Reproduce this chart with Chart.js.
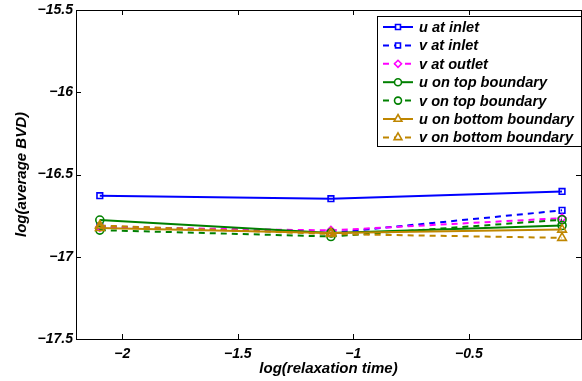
<!DOCTYPE html>
<html>
<head>
<meta charset="utf-8">
<script src="https://cdn.jsdelivr.net/npm/chart.js@4/dist/chart.umd.min.js"></script>
<style>
  html, body { margin: 0; padding: 0; background: #fff; }
  #wrap { width: 582px; height: 381px; }
</style>
</head>
<body>
<div id="wrap"><canvas id="bvdChart" width="582" height="381"></canvas></div>
<script>
// log(relaxation time) values at which the runs were made
const logTau = [-2.097, -1.097, -0.097];

// log(average BVD) per boundary quantity
const uInlet = [-16.629, -16.647, -16.603];
const vInlet = [-16.815, -16.855, -16.718];
const vOutlet = [-16.820, -16.840, -16.765];
const uTop = [-16.777, -16.855, -16.810];
const vTop = [-16.838, -16.877, -16.775];
const uBottom = [-16.825, -16.855, -16.835];
const vBottom = [-16.810, -16.862, -16.885];

const seriesNames = ['u at inlet', 'v at inlet', 'v at outlet', 'u on top boundary',
    'v on top boundary', 'u on bottom boundary', 'v on bottom boundary'];

const xTicks = [-2, -1.5, -1, -0.5];
const yTicks = [-17.5, -17, -16.5, -16, -15.5];

const FONT = "'Liberation Sans', Arial, sans-serif";
const BLUE = '#0000ff', MAGENTA = '#ff00ff', GREEN = '#008000', BROWN = '#bf8600';
const DASH = [6, 5];

const series = [
    { data: uInlet, color: BLUE, dash: [], marker: 'rect' },
    { data: vInlet, color: BLUE, dash: DASH, marker: 'rect' },
    { data: vOutlet, color: MAGENTA, dash: DASH, marker: 'rectRot' },
    { data: uTop, color: GREEN, dash: [], marker: 'circle' },
    { data: vTop, color: GREEN, dash: DASH, marker: 'circle' },
    { data: uBottom, color: BROWN, dash: [], marker: 'triangle' },
    { data: vBottom, color: BROWN, dash: DASH, marker: 'triangle' }
];

const datasets = series.map((s, i) => ({
    label: seriesNames[i],
    data: s.data.map((y, j) => ({ x: logTau[j], y })),
    borderColor: s.color,
    backgroundColor: 'rgba(255,255,255,0)',
    borderWidth: 2,
    borderDash: s.dash,
    pointStyle: s.marker,
    pointRadius: s.marker === 'triangle' ? 5 : 4,
    pointBorderWidth: 1.6,
    pointBorderColor: s.color,
    pointBackgroundColor: 'rgba(255,255,255,0)',
    tension: 0,
    order: series.length - i // later series drawn on top, like matlab
}));

const minus = v => String(v).replace('-', '\u2212');

// box around the plot with inward ticks on all four sides
const boxPlugin = {
    id: 'box',
    afterDatasetsDraw(chart) {
        const { ctx, chartArea: a, scales } = chart;
        ctx.save();
        ctx.strokeStyle = '#000';
        ctx.lineWidth = 1;
        ctx.setLineDash([]);
        ctx.strokeRect(a.left + 0.5, a.top + 0.5, a.right - a.left, a.bottom - a.top);
        ctx.beginPath();
        scales.x.ticks.forEach(t => {
            const px = Math.round(scales.x.getPixelForValue(t.value)) + 0.5;
            ctx.moveTo(px, a.bottom); ctx.lineTo(px, a.bottom - 5);
            ctx.moveTo(px, a.top); ctx.lineTo(px, a.top + 5);
        });
        scales.y.ticks.forEach(t => {
            const py = Math.round(scales.y.getPixelForValue(t.value)) + 0.5;
            ctx.moveTo(a.left, py); ctx.lineTo(a.left + 5, py);
            ctx.moveTo(a.right, py); ctx.lineTo(a.right - 5, py);
        });
        ctx.stroke();
        ctx.restore();
    }
};

// matlab style legend in the top right corner
const legendPlugin = {
    id: 'boxLegend',
    afterDraw(chart) {
        const ctx = chart.ctx;
        const x0 = 377, y0 = 16, w = 204, h = 130, row = 18.4;
        ctx.save();
        ctx.fillStyle = '#fff';
        ctx.fillRect(x0, y0, w, h);
        ctx.strokeStyle = '#000';
        ctx.lineWidth = 1;
        ctx.strokeRect(x0 + 0.5, y0 + 0.5, w, h);
        ctx.font = 'italic bold 14.6px ' + FONT;
        ctx.textBaseline = 'middle';
        chart.data.datasets.forEach((ds, i) => {
            const y = y0 + 11 + i * row;
            ctx.strokeStyle = ds.borderColor;
            ctx.lineWidth = 2;
            ctx.setLineDash(ds.borderDash);
            ctx.beginPath();
            ctx.moveTo(383, y); ctx.lineTo(413, y);
            ctx.stroke();
            ctx.setLineDash([]);
            ctx.fillStyle = '#fff';
            ctx.strokeStyle = ds.borderColor;
            ctx.lineWidth = 1.6;
            Chart.helpers.drawPoint(ctx, {
                pointStyle: ds.pointStyle, radius: ds.pointRadius - 0.5, rotation: 0, borderWidth: 1.6
            }, 398, y);
            ctx.fillStyle = '#000';
            ctx.fillText(ds.label, 419, y + 1);
        });
        ctx.restore();
    }
};

new Chart(document.getElementById('bvdChart'), {
    type: 'line',
    data: { datasets },
    options: {
        responsive: false,
        animation: false,
        events: [],
        layout: { autoPadding: false, padding: { top: 10, right: 1, left: 0, bottom: 0 } },
        plugins: { legend: { display: false }, tooltip: { enabled: false } },
        scales: {
            x: {
                type: 'linear',
                min: -2.2,
                max: -0.015,
                afterBuildTicks: s => { s.ticks = xTicks.map(v => ({ value: v })); },
                afterFit: s => { s.height = 42; s.paddingLeft = 0; s.paddingRight = 0; },
                grid: { display: false, drawTicks: false },
                border: { display: false },
                ticks: {
                    padding: 7,
                    color: '#000',
                    font: { family: FONT, size: 14, style: 'italic', weight: 'bold' },
                    callback: minus
                },
                title: {
                    display: true,
                    text: 'log(relaxation time)',
                    color: '#000',
                    padding: { top: 4, bottom: 3 },
                    font: { family: FONT, size: 15, style: 'italic', weight: 'bold' }
                }
            },
            y: {
                type: 'linear',
                min: -17.5,
                max: -15.5,
                afterBuildTicks: s => { s.ticks = yTicks.map(v => ({ value: v })); },
                afterFit: s => { s.width = 76; s.paddingTop = 0; s.paddingBottom = 0; },
                grid: { display: false, drawTicks: false },
                border: { display: false },
                ticks: {
                    padding: 3,
                    color: '#000',
                    font: { family: FONT, size: 14, style: 'italic', weight: 'bold' },
                    callback: minus
                },
                title: {
                    display: true,
                    text: 'log(average BVD)',
                    color: '#000',
                    padding: { top: 13, bottom: 4 },
                    font: { family: FONT, size: 15, style: 'italic', weight: 'bold' }
                }
            }
        }
    },
    plugins: [boxPlugin, legendPlugin]
});
</script>
</body>
</html>
